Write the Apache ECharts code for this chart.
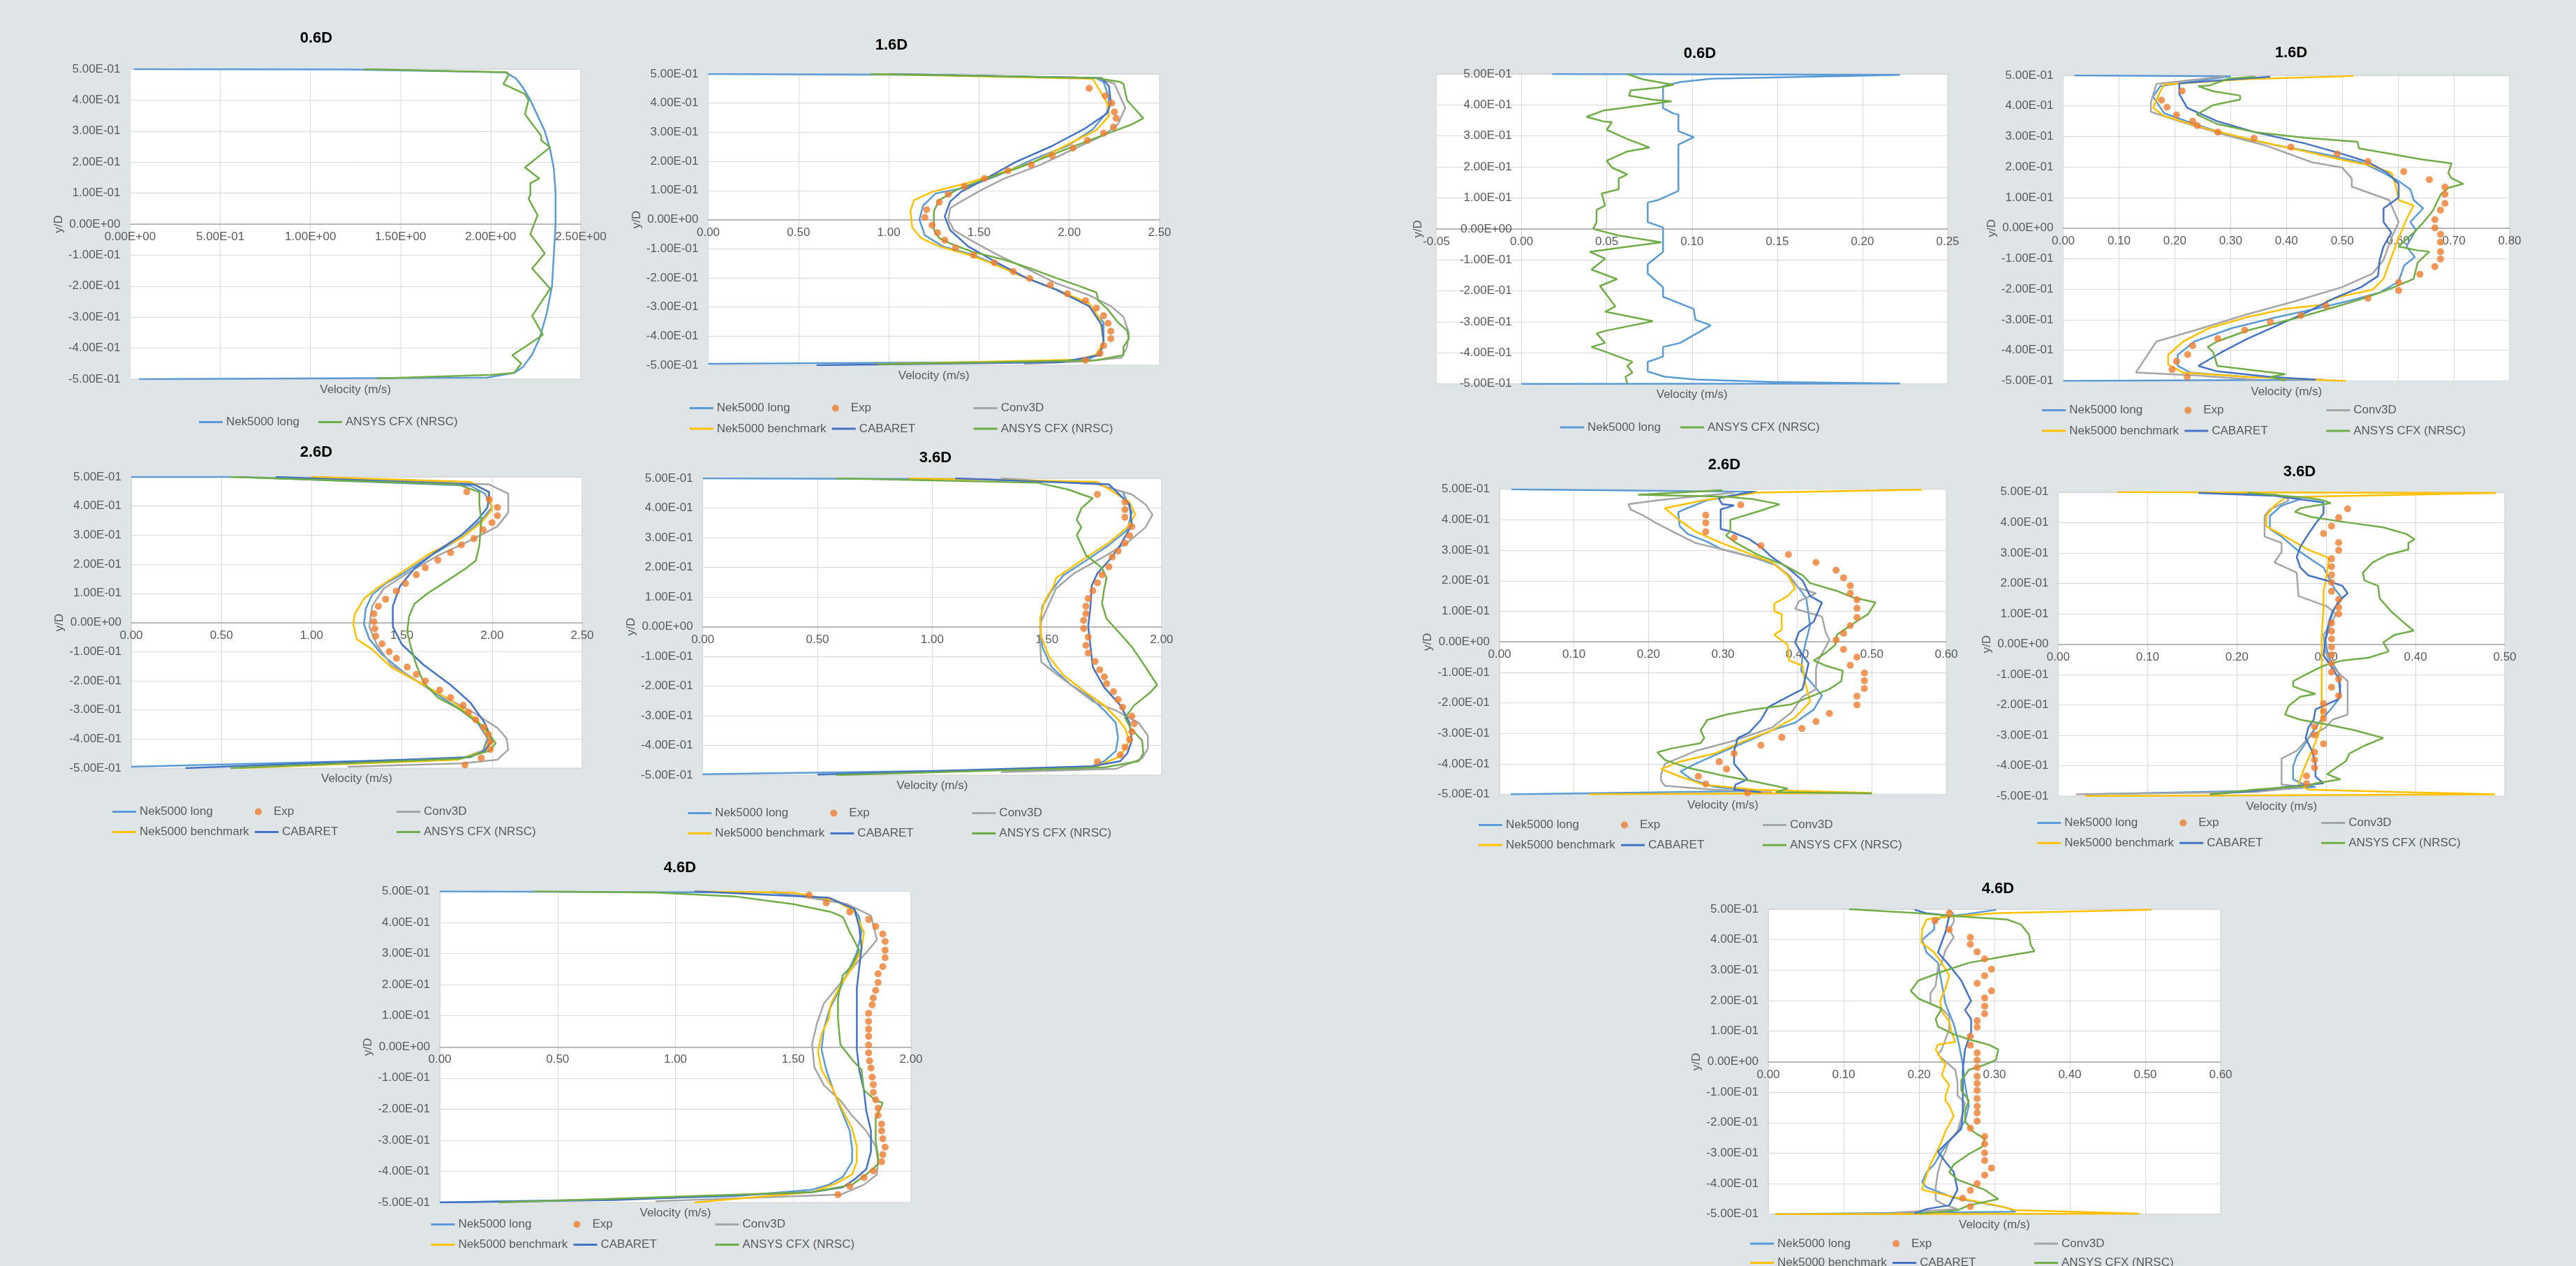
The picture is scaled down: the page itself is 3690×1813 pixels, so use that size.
<!DOCTYPE html>
<html>
<head>
<meta charset="utf-8">
<title>Velocity profiles</title>
<script src="https://cdn.jsdelivr.net/npm/echarts@6/dist/echarts.min.js"></script>
<style>
  html, body { margin: 0; padding: 0; background: #dfe4e6; }
  #chart { width: 3690px; height: 1813px; }
</style>
</head>
<body>
<div id="chart"></div>
<script>
// ---- data: [velocity (m/s), y/D] ----

// left column (streamwise velocity)
const L06_nekLong = [[0.02,0.5],[1.2,0.499],[2.08,0.49],[2.14,0.47],[2.18,0.44],[2.22,0.40],[2.26,0.35],[2.30,0.30],[2.33,0.24],[2.35,0.18],[2.36,0.10],[2.36,0.0],[2.35,-0.10],[2.34,-0.20],[2.31,-0.29],[2.27,-0.37],[2.23,-0.42],[2.18,-0.46],[2.13,-0.48],[1.98,-0.495],[0.05,-0.5]];
const L06_ansys = [[1.30,0.5],[2.09,0.49],[2.10,0.482],[2.07,0.452],[2.19,0.42],[2.21,0.40],[2.19,0.355],[2.28,0.285],[2.28,0.27],[2.33,0.248],[2.19,0.183],[2.27,0.147],[2.22,0.132],[2.22,0.095],[2.21,0.082],[2.26,0.029],[2.22,-0.032],[2.30,-0.094],[2.23,-0.143],[2.33,-0.208],[2.23,-0.296],[2.29,-0.357],[2.12,-0.423],[2.17,-0.449],[2.13,-0.48],[2.01,-0.486],[1.37,-0.498]];

const L16_nekLong = [[0,0.5],[1.2,0.497],[2.15,0.486],[2.19,0.472],[2.22,0.42],[2.21,0.37],[2.13,0.31],[1.99,0.253],[1.80,0.207],[1.60,0.15],[1.42,0.109],[1.26,0.09],[1.19,0.048],[1.17,0.0],[1.20,-0.054],[1.30,-0.092],[1.46,-0.12],[1.62,-0.16],[1.76,-0.2],[1.95,-0.245],[2.11,-0.297],[2.19,-0.353],[2.19,-0.418],[2.17,-0.46],[2.11,-0.479],[1.95,-0.488],[0.0,-0.495]];
const L16_exp = [[2.11,0.451],[2.20,0.425],[2.235,0.40],[2.25,0.37],[2.26,0.348],[2.245,0.318],[2.19,0.297],[2.10,0.272],[2.02,0.246],[1.905,0.22],[1.79,0.188],[1.66,0.168],[1.53,0.141],[1.42,0.114],[1.33,0.087],[1.28,0.06],[1.21,0.034],[1.20,0.008],[1.24,-0.019],[1.27,-0.045],[1.31,-0.07],[1.37,-0.097],[1.47,-0.122],[1.585,-0.148],[1.69,-0.178],[1.78,-0.202],[1.895,-0.225],[1.99,-0.255],[2.09,-0.278],[2.15,-0.304],[2.19,-0.33],[2.215,-0.356],[2.23,-0.383],[2.23,-0.409],[2.19,-0.433],[2.17,-0.46],[2.09,-0.483]];
const L16_conv3d = [[1.0,0.5],[2.15,0.486],[2.25,0.467],[2.31,0.384],[2.27,0.328],[2.19,0.29],[2.03,0.244],[1.84,0.188],[1.64,0.141],[1.52,0.104],[1.40,0.062],[1.34,0.039],[1.33,0.0],[1.36,-0.036],[1.46,-0.073],[1.60,-0.12],[1.785,-0.175],[1.925,-0.218],[2.11,-0.26],[2.23,-0.297],[2.30,-0.334],[2.33,-0.39],[2.32,-0.437],[2.29,-0.474],[2.05,-0.488],[1.75,-0.495]];
const L16_nekBench = [[0.9,0.5],[2.13,0.484],[2.21,0.40],[2.22,0.356],[2.15,0.307],[2.03,0.27],[1.80,0.197],[1.62,0.16],[1.42,0.123],[1.24,0.095],[1.14,0.067],[1.12,0.03],[1.13,-0.027],[1.18,-0.064],[1.28,-0.092],[1.44,-0.12],[1.58,-0.152],[1.72,-0.19],[1.925,-0.24],[2.11,-0.287],[2.17,-0.343],[2.19,-0.418],[2.15,-0.464],[2.05,-0.481],[0.9,-0.497]];
const L16_cabaret = [[1.0,0.5],[2.18,0.486],[2.22,0.458],[2.23,0.402],[2.21,0.365],[2.09,0.314],[1.905,0.253],[1.70,0.197],[1.54,0.141],[1.40,0.095],[1.34,0.062],[1.31,0.011],[1.34,-0.036],[1.44,-0.092],[1.60,-0.148],[1.76,-0.2],[1.925,-0.24],[2.11,-0.297],[2.18,-0.362],[2.19,-0.418],[2.17,-0.465],[1.95,-0.49],[0.6,-0.5]];
const L16_ansys = [[0.9,0.5],[2.15,0.486],[2.28,0.473],[2.30,0.467],[2.32,0.41],[2.41,0.348],[2.35,0.328],[2.23,0.30],[2.11,0.272],[1.95,0.234],[1.72,0.178],[1.54,0.141],[1.38,0.104],[1.28,0.067],[1.25,0.029],[1.25,-0.036],[1.28,-0.064],[1.34,-0.082],[1.46,-0.11],[1.64,-0.138],[1.80,-0.171],[1.925,-0.2],[2.05,-0.227],[2.15,-0.25],[2.16,-0.278],[2.21,-0.306],[2.27,-0.353],[2.32,-0.381],[2.33,-0.409],[2.30,-0.437],[2.30,-0.465],[2.15,-0.483],[0.94,-0.497]];

const L26_nekLong = [[0,0.5],[0.6,0.5],[1.88,0.47],[1.96,0.443],[2.0,0.395],[1.94,0.352],[1.83,0.291],[1.66,0.23],[1.51,0.169],[1.41,0.134],[1.335,0.095],[1.30,0.047],[1.29,-0.005],[1.32,-0.057],[1.39,-0.11],[1.51,-0.171],[1.66,-0.232],[1.81,-0.293],[1.92,-0.345],[1.975,-0.397],[1.95,-0.44],[1.83,-0.467],[0,-0.495]];
const L26_exp = [[1.86,0.449],[1.985,0.423],[2.03,0.395],[2.03,0.367],[2.0,0.343],[1.95,0.319],[1.90,0.288],[1.83,0.267],[1.77,0.24],[1.70,0.214],[1.63,0.188],[1.58,0.164],[1.52,0.134],[1.47,0.108],[1.41,0.08],[1.37,0.056],[1.345,0.03],[1.345,0.003],[1.35,-0.021],[1.355,-0.047],[1.39,-0.073],[1.43,-0.1],[1.47,-0.123],[1.53,-0.153],[1.58,-0.178],[1.63,-0.201],[1.71,-0.232],[1.77,-0.258],[1.84,-0.284],[1.87,-0.308],[1.91,-0.334],[1.955,-0.36],[1.98,-0.384],[1.99,-0.41],[1.99,-0.436],[1.94,-0.465],[1.85,-0.489]];
const L26_conv3d = [[1.0,0.5],[1.985,0.474],[2.09,0.443],[2.09,0.378],[2.03,0.33],[1.88,0.282],[1.70,0.23],[1.53,0.169],[1.40,0.117],[1.335,0.056],[1.32,-0.014],[1.36,-0.075],[1.44,-0.145],[1.62,-0.214],[1.77,-0.267],[1.90,-0.31],[2.03,-0.362],[2.08,-0.397],[2.09,-0.436],[2.03,-0.471],[1.83,-0.484],[1.2,-0.495]];
const L26_nekBench = [[1.0,0.5],[1.88,0.483],[1.98,0.448],[2.0,0.387],[1.94,0.343],[1.83,0.29],[1.66,0.239],[1.49,0.169],[1.36,0.117],[1.29,0.082],[1.24,0.03],[1.23,-0.005],[1.25,-0.057],[1.335,-0.092],[1.44,-0.153],[1.62,-0.214],[1.77,-0.267],[1.92,-0.336],[1.985,-0.397],[1.96,-0.44],[1.81,-0.471],[0.6,-0.5]];
const L26_cabaret = [[0.8,0.5],[1.90,0.474],[1.985,0.448],[1.975,0.395],[1.92,0.352],[1.83,0.30],[1.68,0.239],[1.57,0.186],[1.49,0.125],[1.45,0.056],[1.45,-0.014],[1.50,-0.075],[1.62,-0.145],[1.77,-0.214],[1.88,-0.275],[1.96,-0.345],[2.0,-0.406],[1.96,-0.44],[1.88,-0.462],[0.3,-0.5]];
const L26_ansys = [[0.55,0.5],[1.81,0.474],[1.93,0.448],[1.93,0.404],[1.94,0.352],[1.93,0.265],[1.91,0.213],[1.855,0.186],[1.75,0.143],[1.64,0.099],[1.57,0.064],[1.54,0.021],[1.53,-0.031],[1.55,-0.084],[1.58,-0.145],[1.62,-0.206],[1.70,-0.258],[1.83,-0.301],[1.96,-0.362],[2.02,-0.415],[1.985,-0.441],[1.83,-0.467],[0.55,-0.5]];

const L36_nekLong = [[0,0.5],[1.2,0.497],[1.70,0.485],[1.83,0.455],[1.87,0.386],[1.85,0.326],[1.77,0.275],[1.67,0.223],[1.57,0.172],[1.52,0.121],[1.48,0.069],[1.47,0.001],[1.48,-0.068],[1.52,-0.136],[1.605,-0.196],[1.69,-0.239],[1.75,-0.282],[1.80,-0.324],[1.81,-0.376],[1.80,-0.419],[1.75,-0.453],[1.67,-0.479],[0,-0.497]];
const L36_exp = [[1.72,0.446],[1.84,0.42],[1.84,0.395],[1.84,0.369],[1.87,0.337],[1.86,0.307],[1.84,0.282],[1.81,0.255],[1.785,0.235],[1.77,0.202],[1.74,0.175],[1.72,0.148],[1.70,0.121],[1.68,0.095],[1.67,0.069],[1.67,0.044],[1.66,0.021],[1.66,-0.006],[1.68,-0.035],[1.67,-0.063],[1.68,-0.089],[1.71,-0.117],[1.73,-0.145],[1.75,-0.169],[1.76,-0.192],[1.79,-0.219],[1.81,-0.246],[1.83,-0.271],[1.87,-0.301],[1.88,-0.327],[1.87,-0.354],[1.86,-0.38],[1.84,-0.406],[1.82,-0.432],[1.72,-0.455]];
const L36_conv3d = [[1.3,0.5],[1.72,0.48],[1.87,0.446],[1.93,0.412],[1.96,0.378],[1.93,0.335],[1.85,0.283],[1.74,0.232],[1.62,0.181],[1.54,0.129],[1.51,0.078],[1.475,0.018],[1.47,-0.05],[1.475,-0.119],[1.53,-0.153],[1.62,-0.205],[1.70,-0.252],[1.80,-0.282],[1.90,-0.324],[1.94,-0.367],[1.94,-0.41],[1.915,-0.444],[1.80,-0.479],[1.3,-0.49]];
const L36_nekBench = [[0.9,0.5],[1.72,0.488],[1.86,0.42],[1.885,0.378],[1.85,0.335],[1.77,0.283],[1.65,0.223],[1.54,0.164],[1.53,0.138],[1.49,0.086],[1.47,0.027],[1.475,-0.033],[1.51,-0.102],[1.57,-0.162],[1.67,-0.222],[1.75,-0.265],[1.81,-0.312],[1.84,-0.342],[1.86,-0.384],[1.82,-0.436],[1.72,-0.47],[0.6,-0.498]];
const L36_cabaret = [[1.1,0.5],[1.77,0.48],[1.86,0.412],[1.87,0.343],[1.82,0.275],[1.77,0.223],[1.72,0.18],[1.695,0.138],[1.69,0.069],[1.68,0.001],[1.69,-0.068],[1.70,-0.136],[1.75,-0.205],[1.82,-0.265],[1.86,-0.324],[1.87,-0.384],[1.85,-0.427],[1.82,-0.453],[1.70,-0.47],[0.5,-0.498]];
const L36_ansys = [[0.58,0.5],[1.46,0.485],[1.59,0.463],[1.70,0.433],[1.65,0.399],[1.63,0.36],[1.65,0.335],[1.63,0.309],[1.67,0.241],[1.74,0.198],[1.76,0.164],[1.75,0.129],[1.74,0.078],[1.76,0.027],[1.83,-0.033],[1.87,-0.068],[1.93,-0.136],[1.98,-0.196],[1.95,-0.222],[1.88,-0.265],[1.84,-0.307],[1.865,-0.342],[1.915,-0.384],[1.92,-0.427],[1.90,-0.453],[1.75,-0.474],[0.58,-0.5]];

const L46_nekLong = [[0,0.5],[1.41,0.496],[1.66,0.475],[1.75,0.451],[1.78,0.418],[1.79,0.369],[1.77,0.303],[1.73,0.238],[1.70,0.189],[1.655,0.123],[1.63,0.057],[1.62,-0.008],[1.64,-0.074],[1.67,-0.139],[1.705,-0.205],[1.74,-0.27],[1.75,-0.328],[1.75,-0.369],[1.71,-0.418],[1.65,-0.443],[1.58,-0.459],[1.25,-0.48],[0.58,-0.492],[0,-0.5]];
const L46_exp = [[1.567,0.488],[1.64,0.463],[1.74,0.434],[1.82,0.41],[1.85,0.387],[1.88,0.363],[1.89,0.339],[1.89,0.311],[1.89,0.287],[1.88,0.258],[1.86,0.235],[1.86,0.207],[1.85,0.182],[1.84,0.157],[1.835,0.135],[1.82,0.108],[1.82,0.082],[1.82,0.057],[1.82,0.034],[1.82,0.006],[1.82,-0.019],[1.824,-0.045],[1.83,-0.068],[1.835,-0.097],[1.84,-0.121],[1.84,-0.146],[1.85,-0.17],[1.86,-0.197],[1.86,-0.22],[1.875,-0.248],[1.875,-0.27],[1.88,-0.295],[1.89,-0.322],[1.88,-0.346],[1.875,-0.369],[1.84,-0.399],[1.80,-0.42],[1.74,-0.448],[1.69,-0.475]];
const L46_conv3d = [[1.41,0.5],[1.73,0.459],[1.83,0.422],[1.855,0.344],[1.81,0.303],[1.76,0.262],[1.70,0.205],[1.63,0.139],[1.60,0.074],[1.58,0.008],[1.59,-0.066],[1.63,-0.123],[1.70,-0.172],[1.75,-0.221],[1.81,-0.27],[1.85,-0.32],[1.86,-0.369],[1.855,-0.41],[1.80,-0.443],[1.70,-0.475],[0.915,-0.496]];
const L46_nekBench = [[1.08,0.5],[1.50,0.496],[1.68,0.471],[1.76,0.434],[1.80,0.369],[1.79,0.311],[1.75,0.254],[1.70,0.197],[1.66,0.139],[1.65,0.09],[1.62,0.041],[1.605,-0.016],[1.62,-0.074],[1.665,-0.131],[1.705,-0.197],[1.75,-0.262],[1.77,-0.32],[1.77,-0.369],[1.75,-0.41],[1.68,-0.439],[1.58,-0.467],[1.08,-0.5]];
const L46_cabaret = [[1.08,0.5],[1.65,0.48],[1.76,0.443],[1.78,0.385],[1.79,0.32],[1.78,0.254],[1.77,0.189],[1.77,0.123],[1.77,0.057],[1.77,-0.008],[1.78,-0.074],[1.80,-0.139],[1.81,-0.205],[1.83,-0.27],[1.83,-0.336],[1.81,-0.393],[1.76,-0.426],[1.71,-0.451],[1.58,-0.467],[0.75,-0.492],[0,-0.5]];
const L46_ansys = [[0.4,0.5],[0.915,0.496],[1.25,0.484],[1.50,0.459],[1.66,0.434],[1.71,0.418],[1.74,0.369],[1.78,0.311],[1.75,0.262],[1.71,0.23],[1.69,0.156],[1.69,0.09],[1.70,0.008],[1.75,-0.041],[1.79,-0.074],[1.80,-0.139],[1.85,-0.172],[1.88,-0.18],[1.85,-0.23],[1.85,-0.303],[1.86,-0.352],[1.86,-0.377],[1.81,-0.41],[1.75,-0.443],[1.58,-0.467],[0.25,-0.5]];

// right column (transverse velocity)
const R06_nekLong = [[0.018,0.5],[0.222,0.497],[0.111,0.485],[0.093,0.474],[0.083,0.46],[0.083,0.39],[0.089,0.373],[0.092,0.369],[0.092,0.316],[0.101,0.296],[0.092,0.272],[0.092,0.123],[0.08,0.093],[0.074,0.085],[0.074,0.022],[0.083,0.005],[0.083,-0.074],[0.074,-0.114],[0.074,-0.144],[0.083,-0.188],[0.083,-0.219],[0.101,-0.258],[0.102,-0.293],[0.111,-0.311],[0.093,-0.368],[0.083,-0.381],[0.083,-0.412],[0.074,-0.429],[0.074,-0.46],[0.084,-0.477],[0.102,-0.486],[0.147,-0.494],[0.222,-0.499],[0.0,-0.5]];
const R06_ansys = [[0.062,0.5],[0.071,0.483],[0.089,0.465],[0.08,0.456],[0.064,0.447],[0.063,0.43],[0.077,0.417],[0.088,0.412],[0.071,0.399],[0.048,0.382],[0.038,0.362],[0.048,0.347],[0.053,0.345],[0.05,0.32],[0.062,0.29],[0.075,0.263],[0.062,0.25],[0.05,0.22],[0.053,0.198],[0.062,0.176],[0.057,0.163],[0.057,0.128],[0.047,0.114],[0.049,0.075],[0.044,0.062],[0.044,0.022],[0.042,0.0],[0.057,-0.021],[0.082,-0.043],[0.057,-0.061],[0.04,-0.074],[0.049,-0.096],[0.041,-0.131],[0.056,-0.162],[0.046,-0.184],[0.049,-0.206],[0.055,-0.25],[0.049,-0.267],[0.077,-0.298],[0.05,-0.328],[0.044,-0.337],[0.049,-0.368],[0.041,-0.381],[0.048,-0.394],[0.065,-0.429],[0.062,-0.442],[0.065,-0.464],[0.061,-0.477],[0.062,-0.5]];

const R16_nekLong = [[0.02,0.5],[0.30,0.497],[0.174,0.465],[0.161,0.43],[0.181,0.376],[0.235,0.341],[0.296,0.305],[0.384,0.27],[0.466,0.243],[0.534,0.216],[0.574,0.181],[0.601,0.154],[0.622,0.127],[0.628,0.092],[0.645,0.065],[0.622,0.02],[0.632,-0.006],[0.615,-0.06],[0.63,-0.095],[0.611,-0.122],[0.601,-0.175],[0.567,-0.211],[0.513,-0.238],[0.452,-0.264],[0.384,-0.291],[0.303,-0.327],[0.235,-0.371],[0.205,-0.415],[0.205,-0.451],[0.228,-0.473],[0.33,-0.487],[0.466,-0.496],[0,-0.5]];
const R16_exp = [[0.213,0.449],[0.176,0.419],[0.186,0.396],[0.203,0.371],[0.232,0.35],[0.24,0.336],[0.277,0.314],[0.342,0.294],[0.408,0.265],[0.491,0.243],[0.546,0.218],[0.61,0.185],[0.656,0.159],[0.684,0.134],[0.684,0.111],[0.684,0.081],[0.676,0.059],[0.666,0.028],[0.666,0.001],[0.676,-0.02],[0.676,-0.046],[0.676,-0.077],[0.676,-0.101],[0.666,-0.126],[0.639,-0.151],[0.601,-0.178],[0.601,-0.204],[0.546,-0.23],[0.471,-0.255],[0.426,-0.286],[0.371,-0.307],[0.325,-0.334],[0.277,-0.362],[0.232,-0.385],[0.223,-0.414],[0.203,-0.436],[0.195,-0.463],[0.222,-0.487]];
const R16_conv3d = [[0.29,0.497],[0.167,0.472],[0.157,0.412],[0.157,0.381],[0.208,0.35],[0.29,0.305],[0.364,0.27],[0.445,0.216],[0.5,0.198],[0.517,0.163],[0.517,0.136],[0.584,0.092],[0.601,0.02],[0.588,-0.033],[0.574,-0.104],[0.554,-0.149],[0.5,-0.193],[0.418,-0.238],[0.33,-0.282],[0.235,-0.335],[0.167,-0.371],[0.13,-0.473],[0.235,-0.482],[0.344,-0.496]];
const R16_nekBench = [[0.52,0.498],[0.33,0.488],[0.181,0.47],[0.174,0.448],[0.161,0.394],[0.181,0.367],[0.262,0.323],[0.344,0.287],[0.432,0.252],[0.506,0.221],[0.547,0.207],[0.588,0.181],[0.595,0.145],[0.601,0.092],[0.628,0.074],[0.615,0.029],[0.601,-0.033],[0.588,-0.095],[0.574,-0.166],[0.554,-0.202],[0.506,-0.22],[0.473,-0.238],[0.466,-0.251],[0.398,-0.264],[0.33,-0.291],[0.262,-0.327],[0.215,-0.371],[0.188,-0.415],[0.188,-0.447],[0.215,-0.473],[0.33,-0.487],[0.506,-0.5]];
const R16_cabaret = [[0.371,0.496],[0.208,0.474],[0.208,0.439],[0.222,0.394],[0.276,0.35],[0.344,0.314],[0.432,0.278],[0.5,0.243],[0.547,0.216],[0.581,0.181],[0.601,0.145],[0.601,0.1],[0.574,0.065],[0.574,0.02],[0.588,-0.015],[0.574,-0.06],[0.567,-0.104],[0.564,-0.157],[0.534,-0.193],[0.486,-0.229],[0.439,-0.273],[0.384,-0.318],[0.33,-0.362],[0.283,-0.407],[0.242,-0.451],[0.276,-0.469],[0.371,-0.487],[0.452,-0.496]];
const R16_ansys = [[0.344,0.496],[0.297,0.49],[0.262,0.467],[0.242,0.465],[0.256,0.456],[0.269,0.448],[0.317,0.434],[0.317,0.421],[0.269,0.403],[0.239,0.372],[0.276,0.341],[0.344,0.314],[0.432,0.296],[0.527,0.283],[0.53,0.261],[0.588,0.243],[0.642,0.225],[0.696,0.212],[0.69,0.181],[0.696,0.163],[0.717,0.145],[0.69,0.132],[0.676,0.109],[0.662,0.056],[0.642,0.012],[0.628,-0.015],[0.601,-0.06],[0.635,-0.073],[0.656,-0.077],[0.635,-0.113],[0.628,-0.166],[0.581,-0.202],[0.54,-0.229],[0.493,-0.255],[0.425,-0.291],[0.33,-0.335],[0.276,-0.371],[0.259,-0.389],[0.269,-0.407],[0.276,-0.451],[0.398,-0.478],[0.371,-0.487],[0.398,-0.5]];

const R26_nekLong = [[0.016,0.5],[0.345,0.492],[0.279,0.464],[0.248,0.434],[0.24,0.425],[0.242,0.379],[0.253,0.353],[0.279,0.328],[0.299,0.303],[0.34,0.277],[0.371,0.252],[0.387,0.218],[0.402,0.176],[0.412,0.142],[0.415,0.091],[0.417,0.053],[0.412,0.006],[0.407,-0.044],[0.405,-0.095],[0.417,-0.129],[0.433,-0.176],[0.422,-0.222],[0.397,-0.265],[0.366,-0.29],[0.335,-0.324],[0.294,-0.366],[0.263,-0.4],[0.243,-0.425],[0.258,-0.451],[0.289,-0.476],[0.345,-0.489],[0.015,-0.5]];
const R26_exp = [[0.324,0.449],[0.277,0.415],[0.277,0.39],[0.277,0.361],[0.315,0.341],[0.351,0.315],[0.388,0.286],[0.425,0.26],[0.452,0.235],[0.462,0.21],[0.471,0.184],[0.471,0.159],[0.48,0.138],[0.48,0.11],[0.48,0.08],[0.471,0.053],[0.462,0.028],[0.452,0.006],[0.462,-0.025],[0.48,-0.05],[0.471,-0.077],[0.49,-0.102],[0.49,-0.127],[0.49,-0.153],[0.48,-0.178],[0.48,-0.207],[0.443,-0.235],[0.425,-0.261],[0.406,-0.284],[0.379,-0.313],[0.351,-0.339],[0.315,-0.366],[0.295,-0.393],[0.305,-0.417],[0.267,-0.441],[0.277,-0.466],[0.333,-0.495]];
const R26_conv3d = [[0.315,0.489],[0.212,0.464],[0.173,0.451],[0.176,0.434],[0.194,0.413],[0.212,0.387],[0.263,0.324],[0.315,0.294],[0.366,0.26],[0.389,0.218],[0.402,0.176],[0.425,0.159],[0.402,0.133],[0.397,0.108],[0.433,0.083],[0.438,0.032],[0.443,0.006],[0.428,-0.061],[0.425,-0.087],[0.425,-0.155],[0.407,-0.18],[0.392,-0.231],[0.366,-0.281],[0.315,-0.324],[0.263,-0.358],[0.222,-0.4],[0.217,-0.434],[0.217,-0.455],[0.222,-0.472],[0.289,-0.485],[0.366,-0.493]];
const R26_nekBench = [[0.567,0.499],[0.345,0.489],[0.274,0.464],[0.222,0.438],[0.243,0.396],[0.263,0.362],[0.294,0.328],[0.33,0.294],[0.366,0.26],[0.387,0.218],[0.397,0.176],[0.387,0.15],[0.369,0.125],[0.369,0.1],[0.379,0.091],[0.379,0.04],[0.369,0.023],[0.387,-0.01],[0.389,-0.061],[0.407,-0.078],[0.41,-0.129],[0.417,-0.197],[0.397,-0.248],[0.366,-0.29],[0.33,-0.324],[0.289,-0.366],[0.243,-0.392],[0.217,-0.417],[0.243,-0.442],[0.274,-0.468],[0.345,-0.485],[0.5,-0.495],[0.12,-0.5]];
const R26_cabaret = [[0.34,0.492],[0.294,0.472],[0.299,0.451],[0.315,0.447],[0.297,0.434],[0.297,0.37],[0.31,0.362],[0.335,0.337],[0.351,0.311],[0.366,0.277],[0.387,0.243],[0.407,0.201],[0.417,0.15],[0.433,0.129],[0.422,0.066],[0.402,0.032],[0.397,-0.002],[0.407,-0.044],[0.415,-0.07],[0.407,-0.155],[0.387,-0.18],[0.361,-0.214],[0.351,-0.256],[0.335,-0.298],[0.32,-0.315],[0.315,-0.358],[0.315,-0.4],[0.333,-0.451],[0.317,-0.468],[0.315,-0.485],[0.351,-0.493]];
const R26_ansys = [[0.299,0.497],[0.186,0.482],[0.304,0.476],[0.34,0.468],[0.376,0.451],[0.351,0.43],[0.31,0.4],[0.31,0.362],[0.304,0.349],[0.315,0.328],[0.346,0.286],[0.382,0.252],[0.407,0.218],[0.417,0.193],[0.453,0.167],[0.474,0.146],[0.505,0.129],[0.495,0.091],[0.479,0.066],[0.453,0.023],[0.451,-0.01],[0.438,-0.036],[0.422,-0.061],[0.438,-0.078],[0.461,-0.095],[0.459,-0.129],[0.443,-0.155],[0.417,-0.18],[0.392,-0.205],[0.34,-0.222],[0.304,-0.239],[0.279,-0.256],[0.27,-0.29],[0.275,-0.315],[0.27,-0.332],[0.232,-0.349],[0.212,-0.362],[0.222,-0.387],[0.253,-0.413],[0.299,-0.438],[0.345,-0.459],[0.387,-0.481],[0.371,-0.493],[0.5,-0.497]];

const R36_nekLong = [[0.16,0.5],[0.242,0.492],[0.271,0.477],[0.25,0.456],[0.237,0.422],[0.237,0.379],[0.25,0.354],[0.267,0.311],[0.284,0.277],[0.297,0.252],[0.303,0.218],[0.309,0.184],[0.318,0.15],[0.309,0.116],[0.305,0.082],[0.303,0.048],[0.299,0.014],[0.301,-0.02],[0.305,-0.054],[0.314,-0.096],[0.316,-0.139],[0.314,-0.181],[0.305,-0.215],[0.292,-0.258],[0.284,-0.292],[0.275,-0.334],[0.267,-0.368],[0.263,-0.402],[0.263,-0.445],[0.275,-0.462],[0.288,-0.47],[0.22,-0.483],[0.03,-0.494]];
const R36_exp = [[0.324,0.445],[0.314,0.416],[0.306,0.388],[0.297,0.364],[0.314,0.334],[0.314,0.309],[0.306,0.281],[0.306,0.255],[0.306,0.228],[0.306,0.203],[0.306,0.174],[0.314,0.147],[0.314,0.121],[0.314,0.099],[0.306,0.069],[0.306,0.043],[0.306,0.017],[0.306,-0.01],[0.306,-0.035],[0.306,-0.064],[0.306,-0.092],[0.314,-0.115],[0.306,-0.142],[0.314,-0.17],[0.297,-0.196],[0.297,-0.221],[0.297,-0.245],[0.287,-0.272],[0.287,-0.299],[0.297,-0.328],[0.287,-0.356],[0.287,-0.381],[0.287,-0.407],[0.278,-0.434],[0.278,-0.459]];
const R36_conv3d = [[0.254,0.49],[0.258,0.473],[0.237,0.443],[0.231,0.422],[0.231,0.354],[0.25,0.333],[0.25,0.303],[0.242,0.269],[0.267,0.235],[0.269,0.158],[0.301,0.124],[0.311,0.099],[0.305,0.065],[0.297,0.031],[0.299,-0.02],[0.305,-0.071],[0.324,-0.122],[0.324,-0.232],[0.307,-0.249],[0.299,-0.275],[0.28,-0.309],[0.267,-0.351],[0.25,-0.377],[0.25,-0.462],[0.275,-0.47],[0.22,-0.487],[0.02,-0.494]];
const R36_nekBench = [[0.066,0.5],[0.49,0.497],[0.28,0.485],[0.254,0.481],[0.242,0.456],[0.233,0.422],[0.233,0.388],[0.254,0.354],[0.28,0.311],[0.301,0.286],[0.303,0.277],[0.299,0.201],[0.297,0.176],[0.297,0.116],[0.295,0.031],[0.295,-0.054],[0.295,-0.139],[0.295,-0.224],[0.295,-0.266],[0.29,-0.309],[0.284,-0.351],[0.275,-0.411],[0.269,-0.462],[0.28,-0.479],[0.381,-0.487],[0.489,-0.494],[0.03,-0.5]];
const R36_cabaret = [[0.157,0.497],[0.242,0.488],[0.297,0.466],[0.297,0.43],[0.288,0.396],[0.28,0.362],[0.271,0.32],[0.267,0.286],[0.271,0.252],[0.28,0.226],[0.301,0.209],[0.318,0.192],[0.324,0.167],[0.314,0.141],[0.307,0.107],[0.303,0.073],[0.299,0.014],[0.297,-0.037],[0.305,-0.071],[0.314,-0.113],[0.316,-0.164],[0.314,-0.181],[0.288,-0.215],[0.286,-0.249],[0.28,-0.275],[0.277,-0.309],[0.284,-0.351],[0.288,-0.393],[0.288,-0.436],[0.297,-0.458],[0.254,-0.47],[0.22,-0.483],[0.17,-0.494]];
const R36_ansys = [[0.212,0.498],[0.28,0.481],[0.297,0.473],[0.305,0.464],[0.288,0.456],[0.271,0.447],[0.265,0.435],[0.284,0.418],[0.322,0.401],[0.364,0.384],[0.39,0.362],[0.399,0.345],[0.392,0.333],[0.392,0.311],[0.369,0.294],[0.352,0.269],[0.341,0.235],[0.343,0.209],[0.358,0.192],[0.36,0.15],[0.373,0.107],[0.386,0.073],[0.398,0.044],[0.377,0.031],[0.364,0.006],[0.37,-0.024],[0.347,-0.045],[0.318,-0.054],[0.297,-0.071],[0.28,-0.096],[0.263,-0.122],[0.263,-0.139],[0.275,-0.152],[0.288,-0.164],[0.271,-0.173],[0.258,-0.203],[0.254,-0.232],[0.271,-0.249],[0.297,-0.262],[0.331,-0.283],[0.364,-0.309],[0.343,-0.334],[0.326,-0.36],[0.322,-0.385],[0.309,-0.411],[0.301,-0.428],[0.316,-0.445],[0.288,-0.458],[0.28,-0.466],[0.22,-0.479],[0.17,-0.494]];

const R46_nekLong = [[0.302,0.498],[0.261,0.483],[0.23,0.475],[0.22,0.458],[0.22,0.433],[0.204,0.4],[0.21,0.358],[0.225,0.324],[0.23,0.257],[0.235,0.19],[0.246,0.123],[0.253,0.056],[0.258,-0.01],[0.261,-0.077],[0.266,-0.144],[0.261,-0.195],[0.251,-0.228],[0.24,-0.261],[0.23,-0.295],[0.22,-0.337],[0.21,-0.362],[0.204,-0.395],[0.21,-0.412],[0.246,-0.446],[0.281,-0.462],[0.317,-0.479],[0.328,-0.492],[0.01,-0.5]];
const R46_exp = [[0.24,0.487],[0.221,0.462],[0.24,0.433],[0.268,0.408],[0.268,0.385],[0.277,0.36],[0.287,0.337],[0.296,0.303],[0.287,0.282],[0.277,0.257],[0.296,0.232],[0.287,0.209],[0.287,0.182],[0.287,0.157],[0.277,0.134],[0.277,0.113],[0.268,0.083],[0.268,0.054],[0.277,0.029],[0.277,0.005],[0.277,-0.019],[0.277,-0.048],[0.277,-0.071],[0.277,-0.094],[0.277,-0.121],[0.277,-0.146],[0.277,-0.168],[0.277,-0.195],[0.268,-0.218],[0.287,-0.245],[0.287,-0.27],[0.287,-0.299],[0.287,-0.324],[0.296,-0.349],[0.287,-0.372],[0.277,-0.4],[0.268,-0.422],[0.258,-0.448],[0.268,-0.475]];
const R46_conv3d = [[0.24,0.498],[0.246,0.483],[0.246,0.458],[0.24,0.433],[0.246,0.408],[0.235,0.366],[0.23,0.324],[0.225,0.308],[0.222,0.249],[0.215,0.224],[0.215,0.19],[0.23,0.174],[0.24,0.149],[0.24,0.107],[0.235,0.073],[0.23,0.04],[0.225,0.023],[0.24,-0.01],[0.248,-0.027],[0.251,-0.069],[0.251,-0.111],[0.261,-0.136],[0.256,-0.186],[0.251,-0.228],[0.24,-0.261],[0.235,-0.295],[0.23,-0.32],[0.225,-0.362],[0.222,-0.412],[0.222,-0.454],[0.235,-0.471],[0.251,-0.483],[0.168,-0.495]];
const R46_nekBench = [[0.508,0.498],[0.302,0.487],[0.22,0.471],[0.21,0.466],[0.204,0.433],[0.203,0.391],[0.22,0.358],[0.23,0.324],[0.24,0.282],[0.235,0.241],[0.228,0.199],[0.23,0.165],[0.24,0.132],[0.243,0.098],[0.248,0.065],[0.225,0.056],[0.222,0.04],[0.23,0.006],[0.235,-0.01],[0.23,-0.044],[0.24,-0.077],[0.235,-0.111],[0.235,-0.128],[0.24,-0.144],[0.246,-0.178],[0.235,-0.228],[0.23,-0.261],[0.222,-0.303],[0.215,-0.337],[0.21,-0.37],[0.204,-0.42],[0.251,-0.446],[0.302,-0.471],[0.328,-0.487],[0.492,-0.498],[0.009,-0.5]];
const R46_cabaret = [[0.194,0.498],[0.21,0.487],[0.24,0.479],[0.235,0.425],[0.225,0.358],[0.24,0.316],[0.256,0.266],[0.269,0.199],[0.261,0.169],[0.269,0.14],[0.269,0.098],[0.261,0.04],[0.258,-0.027],[0.258,-0.094],[0.258,-0.161],[0.256,-0.22],[0.246,-0.245],[0.235,-0.27],[0.225,-0.295],[0.235,-0.328],[0.246,-0.362],[0.251,-0.42],[0.24,-0.471],[0.21,-0.483],[0.194,-0.498]];
const R46_ansys = [[0.107,0.5],[0.2,0.487],[0.24,0.479],[0.287,0.471],[0.317,0.466],[0.335,0.45],[0.346,0.416],[0.348,0.383],[0.353,0.362],[0.312,0.345],[0.266,0.324],[0.235,0.299],[0.199,0.266],[0.189,0.232],[0.199,0.207],[0.23,0.174],[0.222,0.14],[0.225,0.115],[0.246,0.09],[0.266,0.073],[0.292,0.056],[0.305,0.04],[0.302,0.006],[0.287,-0.01],[0.266,-0.027],[0.256,-0.061],[0.256,-0.094],[0.266,-0.128],[0.261,-0.161],[0.261,-0.195],[0.271,-0.228],[0.287,-0.253],[0.284,-0.278],[0.266,-0.303],[0.246,-0.337],[0.24,-0.362],[0.251,-0.387],[0.287,-0.42],[0.305,-0.45],[0.266,-0.471],[0.251,-0.487],[0.2,-0.498]];

// ---- series styles (Excel default palette) ----
const SERIES = [
  { key: 'nekLong',  name: 'Nek5000 long',      color: '#5b9bd5' },
  { key: 'exp',      name: 'Exp',               color: '#ed7d31', scatter: true },
  { key: 'conv3d',   name: 'Conv3D',            color: '#a5a5a5' },
  { key: 'nekBench', name: 'Nek5000 benchmark', color: '#ffc000' },
  { key: 'cabaret',  name: 'CABARET',           color: '#4472c4' },
  { key: 'ansys',    name: 'ANSYS CFX (NRSC)',  color: '#70ad47' }
];

// ---- panel layout (pixel boxes of each plot area) ----
const panels = [
  { title: '0.6D', tx: 453,  ty: 57,   box: [186.5, 99, 832, 543],    x: [0, 2.5, 0.5], sci: true,
    data: { nekLong: L06_nekLong, ansys: L06_ansys },
    legend: [['nekLong', 285, 606], ['ansys', 456, 606]] },
  { title: '1.6D', tx: 1277, ty: 67,   box: [1014.5, 106, 1661, 523], x: [0, 2.5, 0.5], rows: [586, 615.5],
    data: { nekLong: L16_nekLong, exp: L16_exp, conv3d: L16_conv3d, nekBench: L16_nekBench, cabaret: L16_cabaret, ansys: L16_ansys } },
  { title: '2.6D', tx: 453,  ty: 650,  box: [188, 683, 834, 1100],    x: [0, 2.5, 0.5], rows: [1164, 1193],
    data: { nekLong: L26_nekLong, exp: L26_exp, conv3d: L26_conv3d, nekBench: L26_nekBench, cabaret: L26_cabaret, ansys: L26_ansys } },
  { title: '3.6D', tx: 1340, ty: 658,  box: [1006.7, 685, 1664, 1110], x: [0, 2, 0.5], rows: [1166, 1195],
    data: { nekLong: L36_nekLong, exp: L36_exp, conv3d: L36_conv3d, nekBench: L36_nekBench, cabaret: L36_cabaret, ansys: L36_ansys } },
  { title: '4.6D', tx: 974,  ty: 1245, box: [630, 1276.5, 1305, 1722], x: [0, 2, 0.5], rows: [1755, 1784],
    data: { nekLong: L46_nekLong, exp: L46_exp, conv3d: L46_conv3d, nekBench: L46_nekBench, cabaret: L46_cabaret, ansys: L46_ansys } },
  { title: '0.6D', tx: 2435, ty: 79,   box: [2057.5, 106, 2790, 549.7], x: [-0.05, 0.25, 0.05], nameGapY: 18,
    data: { nekLong: R06_nekLong, ansys: R06_ansys },
    legend: [['nekLong', 2235, 613.5], ['ansys', 2407, 613.5]] },
  { title: '1.6D', tx: 3282, ty: 78,   box: [2955.5, 108, 3595, 545.4], x: [0, 0.8, 0.1], rows: [589, 618.5],
    data: { nekLong: R16_nekLong, exp: R16_exp, conv3d: R16_conv3d, nekBench: R16_nekBench, cabaret: R16_cabaret, ansys: R16_ansys } },
  { title: '2.6D', tx: 2470, ty: 668,  box: [2148, 700.7, 2788, 1137.6], x: [0, 0.6, 0.1], rows: [1183, 1211.7],
    data: { nekLong: R26_nekLong, exp: R26_exp, conv3d: R26_conv3d, nekBench: R26_nekBench, cabaret: R26_cabaret, ansys: R26_ansys } },
  { title: '3.6D', tx: 3294, ty: 678,  box: [2948.4, 704.8, 3588, 1140], x: [0, 0.5, 0.1], rows: [1180, 1208.7],
    data: { nekLong: R36_nekLong, exp: R36_exp, conv3d: R36_conv3d, nekBench: R36_nekBench, cabaret: R36_cabaret, ansys: R36_ansys } },
  { title: '4.6D', tx: 2862, ty: 1275, box: [2533, 1302, 3181, 1738.8], x: [0, 0.6, 0.1], rows: [1782.6, 1810],
    data: { nekLong: R46_nekLong, exp: R46_exp, conv3d: R46_conv3d, nekBench: R46_nekBench, cabaret: R46_cabaret, ansys: R46_ansys } }
];

const FONT = 'Arial, "Liberation Sans", Helvetica, sans-serif';
const LABEL_COLOR = '#595959';
const GRID_LINE = '#d9d9d9';

// 0.5 -> "5.00E-01"
function sci(v) {
  v = Math.round(v * 1e6) / 1e6;
  if (v === 0) return '0.00E+00';
  let e = Math.floor(Math.log10(Math.abs(v)));
  let m = v / Math.pow(10, e);
  if (Math.abs(Math.round(m * 100) / 100) >= 10) { e += 1; m = v / Math.pow(10, e); }
  return m.toFixed(2) + 'E' + (e < 0 ? '-' : '+') + String(Math.abs(e)).padStart(2, '0');
}

const labelStyle = { fontSize: 17, color: LABEL_COLOR, fontFamily: FONT };
const grid = [], xAxis = [], yAxis = [], title = [], legend = [], series = [];
const extra = [];   // invisible grids that carry y labels when the y axis sits inside the plot

panels.forEach((p, i) => {
  const [l, t, r, b] = p.box;
  const w = r - l, h = b - t;
  const [xMin, xMax, xStep] = p.x;
  const zeroX = (0 - xMin) / (xMax - xMin) * w;

  grid.push({ left: l, top: t, width: w, height: h, show: true, backgroundColor: '#ffffff',
    borderColor: '#cfcfcf', borderWidth: 1, containLabel: false, outerBoundsMode: 'none' });

  // main x axis: gridlines + title; carries the series
  xAxis.push({
    type: 'value', gridIndex: i, position: 'bottom', min: xMin, max: xMax, interval: xStep,
    name: 'Velocity (m/s)', nameLocation: 'middle', nameGap: 7, nameMoveOverlap: false,
    nameTextStyle: labelStyle,
    axisLine: { show: false, onZero: false }, axisTick: { show: false }, axisLabel: { show: false },
    splitLine: { lineStyle: { color: GRID_LINE } }
  });
  // second x axis moved up onto the y = 0 line, with its tick labels
  xAxis.push({
    type: 'value', gridIndex: i, position: 'bottom', offset: -h / 2, min: xMin, max: xMax, interval: xStep,
    axisLine: { show: true, onZero: false, lineStyle: { color: '#a6a6a6', width: 1.5 } },
    axisTick: { show: false }, splitLine: { show: false },
    axisLabel: Object.assign({ margin: 10, formatter: p.sci ? sci : (v => v.toFixed(2)) }, labelStyle)
  });
  yAxis.push({
    type: 'value', gridIndex: i, position: 'left', min: -0.5, max: 0.5, interval: 0.1,
    name: 'y/D', nameLocation: 'middle', nameGap: p.nameGapY || 94, nameMoveOverlap: false,
    nameTextStyle: labelStyle,
    axisLine: { show: false, onZero: false }, axisTick: { show: false },
    axisLabel: Object.assign({ show: zeroX < 1, margin: 14, formatter: sci }, labelStyle),
    splitLine: { lineStyle: { color: GRID_LINE } }
  });
  if (zeroX >= 1) extra.push({ left: l + zeroX, top: t, width: w - zeroX, height: h });

  title.push({
    text: p.title, left: p.tx, top: p.ty - 13, textAlign: 'center', padding: 0,
    textStyle: { fontSize: 22, fontWeight: 'bold', color: '#000', fontFamily: FONT }
  });

  // legend items, one component each so the columns line up like the original
  let items = p.legend;
  if (!items) {
    const c = (l + r) / 2;
    const [r1, r2] = p.rows;
    items = [
      ['nekLong', c - 350, r1], ['exp', c - 146, r1], ['conv3d', c + 57, r1],
      ['nekBench', c - 350, r2], ['cabaret', c - 146, r2], ['ansys', c + 57, r2]
    ];
  }
  items.forEach(([key, lx, ly]) => {
    const s = SERIES.find(d => d.key === key);
    legend.push({
      data: [s.name], left: lx, top: ly - 10, padding: 0, itemGap: 0,
      icon: s.scatter ? 'circle' : 'rect',
      itemWidth: 34, itemHeight: s.scatter ? 10 : 3, selectedMode: false,
      textStyle: labelStyle
    });
  });

  SERIES.forEach(s => {
    const d = p.data[s.key];
    if (!d) return;
    if (s.scatter) {
      series.push({ type: 'scatter', name: s.name, xAxisIndex: 2 * i, yAxisIndex: i, data: d,
        symbol: 'circle', symbolSize: 10, itemStyle: { color: s.color }, z: 4 });
    } else {
      series.push({ type: 'line', name: s.name, xAxisIndex: 2 * i, yAxisIndex: i, data: d,
        symbol: 'none', lineStyle: { color: s.color, width: 2.5 }, itemStyle: { color: s.color }, z: 3 });
    }
  });
});

// y tick labels placed at x = 0 inside the plot (right 0.6D panel)
extra.forEach(e => {
  const gi = grid.length;
  grid.push({ left: e.left, top: e.top, width: e.width, height: e.height, show: false,
    containLabel: false, outerBoundsMode: 'none' });
  xAxis.push({ type: 'value', gridIndex: gi, min: 0, max: 1, show: false });
  yAxis.push({
    type: 'value', gridIndex: gi, position: 'left', min: -0.5, max: 0.5, interval: 0.1, z: 5,
    axisLine: { show: false, onZero: false }, axisTick: { show: false }, splitLine: { show: false },
    axisLabel: Object.assign({ margin: 14, formatter: sci }, labelStyle)
  });
});

const chart = echarts.init(document.getElementById('chart'));
chart.setOption({
  backgroundColor: '#dfe4e6',
  animation: false,
  textStyle: { fontFamily: FONT },
  title, legend, grid, xAxis, yAxis, series
});
</script>
</body>
</html>
